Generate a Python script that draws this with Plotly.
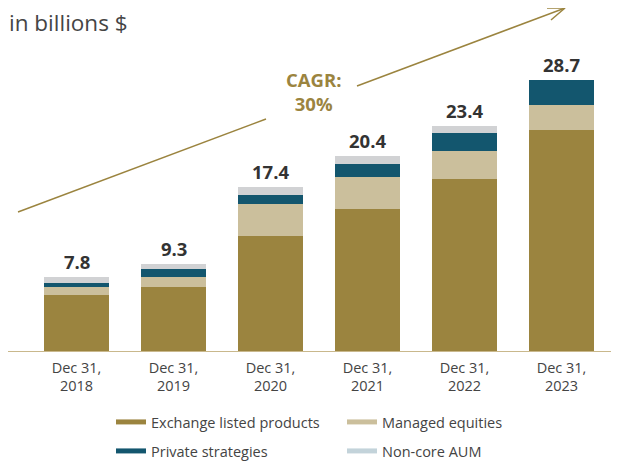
import plotly.graph_objects as go

categories = ["Dec 31,<br>2018", "Dec 31,<br>2019", "Dec 31,<br>2020",
              "Dec 31,<br>2021", "Dec 31,<br>2022", "Dec 31,<br>2023"]
exchange_listed = [5.97, 6.81, 12.15, 14.97, 18.12, 23.25]
managed_equities = [0.84, 1.05, 3.35, 3.35, 2.93, 2.62]
private_strategies = [0.42, 0.84, 0.94, 1.36, 1.88, 2.62]
non_core_aum = [0.63, 0.52, 0.84, 0.84, 0.73, 0.0]
totals = [7.8, 9.3, 17.4, 20.4, 23.4, 28.7]
total_labels = ["7.8", "9.3", "17.4", "20.4", "23.4", "28.7"]
cagr_text = "CAGR:<br>30%"

GOLD = "#9B843F"
BEIGE = "#CBBF9C"
TEAL = "#13566E"
GREY = "#D1D2D4"
LEG_GREY = "#C3D3DA"
FONT = "Open Sans"

OFF = 8  # page body margin
W, H = 611, 453
L, R, T, B = 20, 9, 0, 109
PW, PH = W - L - R, H - T - B


def px(x):
    return (x - OFF - L) / PW


def py(y):
    return (T + PH - (y - OFF)) / PH


fig = go.Figure()
series = [
    ("Exchange listed products", exchange_listed, GOLD, GOLD, "legend"),
    ("Managed equities", managed_equities, BEIGE, BEIGE, "legend"),
    ("Private strategies", private_strategies, TEAL, TEAL, "legend2"),
    ("Non-core AUM", non_core_aum, GREY, LEG_GREY, "legend2"),
]
for name, vals, col, lcol, leg in series:
    fig.add_trace(go.Bar(x=categories, y=vals, name=name, marker=dict(color=col, line=dict(width=0)),
                         showlegend=False, hoverinfo="skip"))
for name, vals, col, lcol, leg in series:
    fig.add_trace(go.Scatter(x=[None], y=[None], mode="lines", name=name,
                             line=dict(color=lcol, width=5), legend=leg))

stack_tops = [a + b + c + d for a, b, c, d in zip(exchange_listed, managed_equities,
                                                   private_strategies, non_core_aum)]
annotations = []
for cat, top, lab in zip(categories, stack_tops, total_labels):
    annotations.append(dict(x=cat, y=top, text=lab, showarrow=False, yanchor="bottom", yshift=1,
                            font=dict(family=FONT, size=18.5, color="#333333", weight="bold")))
annotations.append(dict(xref="paper", yref="paper", x=px(313), y=py(91), xanchor="center",
                        yanchor="middle", text=cagr_text, showarrow=False,
                        font=dict(family=FONT, size=18.5, color=GOLD, weight="bold")))
annotations.append(dict(xref="paper", yref="paper", x=px(8), y=py(8), xanchor="left",
                        yanchor="top", text="in billions $", showarrow=False, borderpad=0,
                        yshift=2, font=dict(family=FONT, size=22.5, color="#454545")))

line_style = dict(color=GOLD, width=1.5)
shapes = [
    dict(type="line", xref="paper", yref="y", x0=px(8), x1=px(619), y0=0, y1=0,
         line=dict(color="#C9B88C", width=2), layer="above"),
    dict(type="line", xref="paper", yref="paper", x0=px(18), y0=py(212), x1=px(266), y1=py(119), line=line_style),
    dict(type="line", xref="paper", yref="paper", x0=px(357), y0=py(86), x1=px(565), y1=py(8), line=line_style),
    dict(type="line", xref="paper", yref="paper", x0=px(547), y0=py(8), x1=px(565), y1=py(8), line=line_style),
    dict(type="line", xref="paper", yref="paper", x0=px(551), y0=py(20), x1=px(565), y1=py(8), line=line_style),
]

legend_common = dict(orientation="h", xanchor="left", yanchor="middle", entrywidth=186,
                     entrywidthmode="pixels", font=dict(family=FONT, size=14.5, color="#444444"),
                     bgcolor="rgba(0,0,0,0)", itemwidth=30, tracegroupgap=0, traceorder="normal")

fig.update_layout(
    width=W, height=H, margin=dict(l=L, r=R, t=T, b=B, autoexpand=False),
    barmode="stack", bargap=0.34,
    plot_bgcolor="white", paper_bgcolor="white",
    xaxis=dict(showgrid=False, showline=False, ticks="", zeroline=False, ticklabelstandoff=5,
               tickfont=dict(family=FONT, size=14.5, color="#444444"), fixedrange=True),
    yaxis=dict(range=[0, PH / 9.55], visible=False, showgrid=False, zeroline=False),
    legend=dict(x=px(111), y=py(422), **legend_common),
    legend2=dict(x=px(111), y=py(451), **legend_common),
    annotations=annotations, shapes=shapes,
)

fig.write_html("out.html")
